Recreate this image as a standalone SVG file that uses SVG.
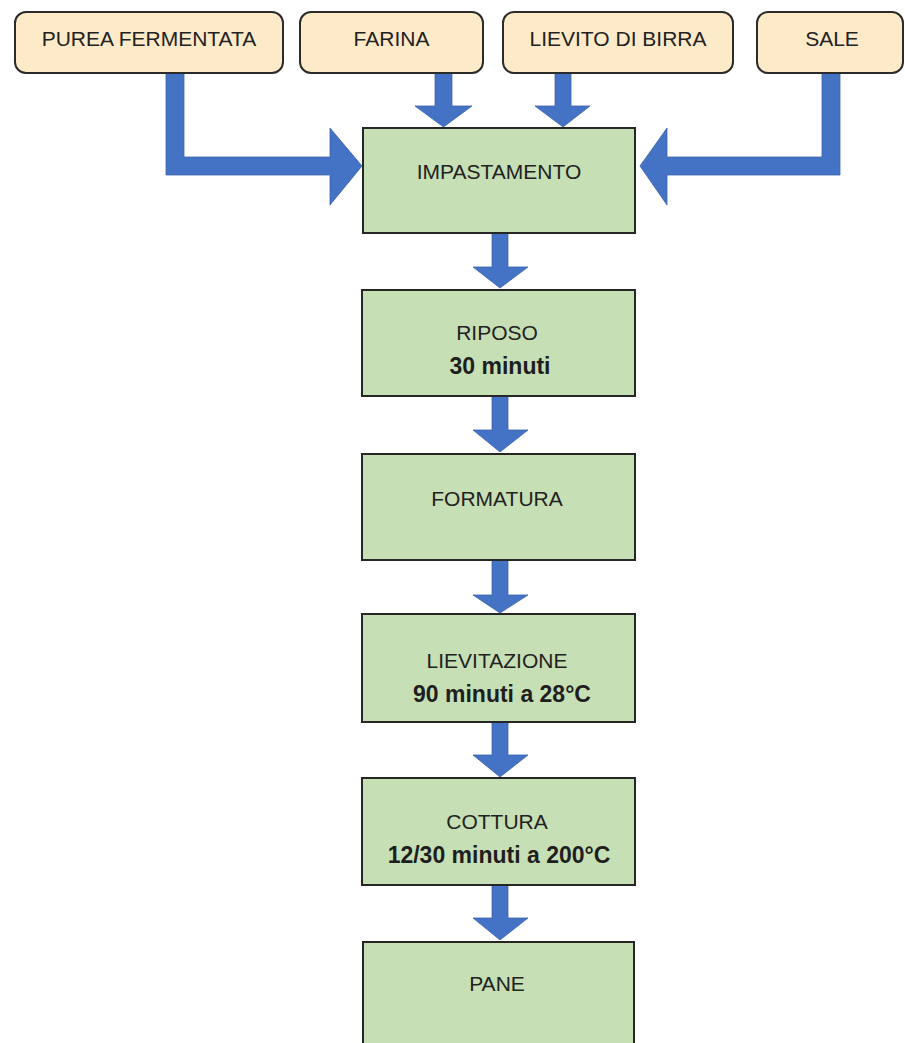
<svg xmlns="http://www.w3.org/2000/svg" width="905" height="1043" viewBox="0 0 905 1043">
<style>
.in{fill:#fdeac8;stroke:#2b2b2b;stroke-width:2}
.st{fill:#c6dfb4;stroke:#262626;stroke-width:2}
.ar{fill:#4472c4;stroke:#3a63ad;stroke-width:0.8}
.t{font-family:"Liberation Sans",Arial,sans-serif;font-size:21px;fill:#222;text-anchor:middle}
.b{font-family:"Liberation Sans",Arial,sans-serif;font-size:23px;font-weight:bold;fill:#1e1e1e;text-anchor:middle}
</style>
<rect width="905" height="1043" fill="#ffffff"/>
<g id="connectors">
<polygon class="ar" points="166,73 184,73 184,157 330,157 330,128 362,166 330,205 330,175 166,175"/>
<polygon class="ar" points="435,73 452,73 452,106 472,106 443.5,127 415,106 435,106"/>
<polygon class="ar" points="555,73 571,73 571,106 590,106 563,127 535,106 555,106"/>
<polygon class="ar" points="822,73 840,73 840,175 667,175 667,205 640,166 667,128 667,157 822,157"/>
<polygon class="ar" points="492,233 508,233 508,267 528,267 500,288 473,267 492,267"/>
<polygon class="ar" points="492,396 508,396 508,430 528,430 500,452 473,430 492,430"/>
<polygon class="ar" points="492,560 508,560 508,595 528,595 500,613 473,595 492,595"/>
<polygon class="ar" points="492,722 508,722 508,755 528,755 500,777 473,755 492,755"/>
<polygon class="ar" points="492,885 508,885 508,918 528,918 500,940 473,918 492,918"/>
</g>
<g id="purea"><rect class="in" x="15" y="12" width="268" height="61" rx="11"/><text class="t" x="149" y="46">PUREA FERMENTATA</text></g>
<g id="farina"><rect class="in" x="300" y="12" width="183" height="61" rx="11"/><text class="t" x="391.5" y="46">FARINA</text></g>
<g id="lievito"><rect class="in" x="503" y="12" width="230" height="61" rx="11"/><text class="t" x="618" y="46">LIEVITO DI BIRRA</text></g>
<g id="sale"><rect class="in" x="757" y="12" width="146" height="61" rx="11"/><text class="t" x="832" y="46">SALE</text></g>
<g id="impastamento"><rect class="st" x="363" y="128" width="272" height="105"/><text class="t" x="499" y="179">IMPASTAMENTO</text></g>
<g id="riposo"><rect class="st" x="362" y="290" width="273" height="106"/><text class="t" x="497" y="340">RIPOSO</text><text class="b" x="500" y="374">30 minuti</text></g>
<g id="formatura"><rect class="st" x="362" y="454" width="273" height="106"/><text class="t" x="497" y="506">FORMATURA</text></g>
<g id="lievitazione"><rect class="st" x="362" y="614" width="273" height="108"/><text class="t" x="497" y="668">LIEVITAZIONE</text><text class="b" x="502" y="702">90 minuti a 28°C</text></g>
<g id="cottura"><rect class="st" x="362" y="778" width="273" height="107"/><text class="t" x="497" y="829">COTTURA</text><text class="b" x="499" y="863">12/30 minuti a 200°C</text></g>
<g id="pane"><rect class="st" x="363" y="942" width="271" height="110"/><text class="t" x="497" y="991">PANE</text></g>
</svg>
